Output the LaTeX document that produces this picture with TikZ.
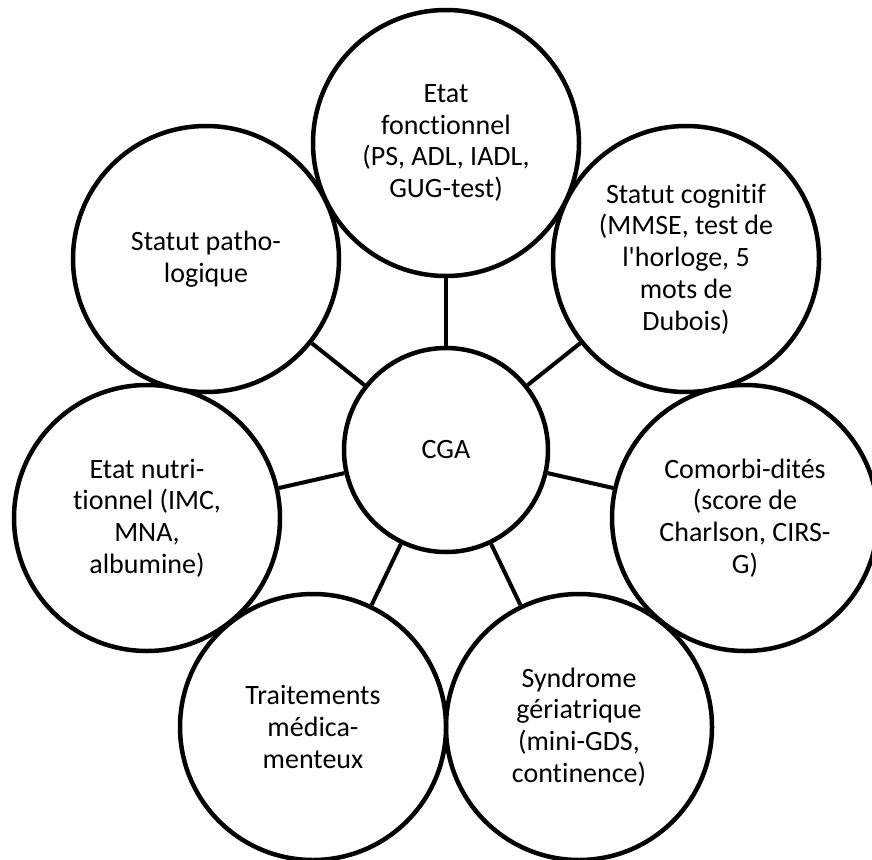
\documentclass[tikz,border=0pt]{standalone}
\usepackage{fontspec}
\setmainfont{Carlito}[Ligatures={TeXOff,NoCommon}]
\begin{document}
\begin{tikzpicture}[x=1pt,y=-1pt,
  bubble/.style={circle, draw=black, fill=white, line width=4.5pt, inner sep=0pt, align=center,
    font=\fontsize{28}{31.7}\selectfont},
  outerbubble/.style={bubble, minimum size=266pt},
  centerbubble/.style={bubble, minimum size=204pt},
  link/.style={line width=4pt}]
\useasboundingbox (0,0) rectangle (872,859);
\clip (0,0) rectangle (872,859);
\node[centerbubble] (cga) at (446,450) {CGA};
\node[outerbubble] (fonc) at (446,143) {Etat\\fonctionnel\\(PS, ADL, IADL,\\GUG-test)};
\node[outerbubble] (cog) at (686,259) {Statut cognitif\\(MMSE, test de\\l'horloge, 5\\mots de\\Dubois)};
\node[outerbubble] (como) at (745,518) {Comorbi-dités\\(score de\\Charlson, CIRS-\\G)};
\node[outerbubble] (synd) at (579,727) {Syndrome\\gériatrique\\(mini-GDS,\\continence)};
\node[outerbubble] (trait) at (313,727) {Traitements\\médica-\\menteux};
\node[outerbubble] (nutri) at (147,518) {Etat nutri-\\tionnel (IMC,\\MNA,\\albumine)};
\node[outerbubble] (patho) at (206,259) {Statut patho-\\logique};
\foreach \n in {fonc,cog,como,synd,trait,nutri,patho}
  \draw[link] (cga) -- (\n);
\end{tikzpicture}
\end{document}
